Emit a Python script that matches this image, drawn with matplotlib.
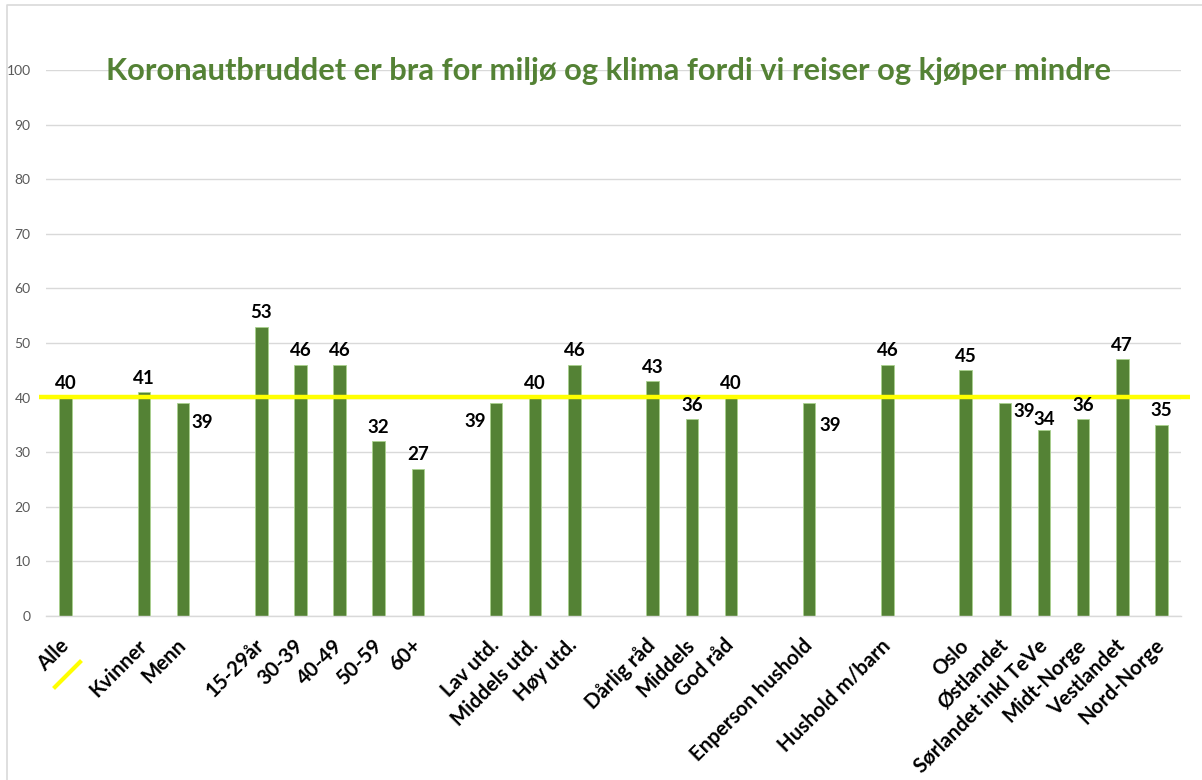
import matplotlib
matplotlib.use("Agg")
import matplotlib.pyplot as plt
from matplotlib.lines import Line2D

categories = ["Alle", "", "Kvinner", "Menn", "", "15-29år", "30-39", "40-49", "50-59", "60+", "",
              "Lav utd.", "Middels utd.", "Høy utd.", "", "Dårlig råd", "Middels", "God råd", "",
              "Enperson hushold", "", "Hushold m/barn", "",
              "Oslo", "Østlandet", "Sørlandet inkl TeVe", "Midt-Norge", "Vestlandet", "Nord-Norge"]
values = [40, None, 41, 39, None, 53, 46, 46, 32, 27, None,
          39, 40, 46, None, 43, 36, 40, None,
          39, None, 46, None,
          45, 39, 34, 36, 47, 35]
reference_value = 40.2
yticks = [0, 10, 20, 30, 40, 50, 60, 70, 80, 90, 100]
title = "Koronautbruddet er bra for miljø og klima fordi vi reiser og kjøper mindre"

# label placement exceptions (offsets in points: dx, dy, ha, va)
label_pos = {
    "Menn": (14, -14, "center", "center"),
    "Lav utd.": (-15, -13, "center", "center"),
    "Enperson hushold": (15, -16, "center", "center"),
    "Østlandet": (14, -6, "center", "center"),
    "Sørlandet inkl TeVe": (0, 2, "center", "bottom"),
}

FONT = ["Lato", "DejaVu Sans"]
plt.rcParams["font.family"] = FONT

W, H = 1202, 780
fig = plt.figure(figsize=(W / 100, H / 100), dpi=100)
fig.patch.set_facecolor("white")
ax = fig.add_axes([46 / W, 1 - 616 / H, (1181 - 46) / W, (616 - 70) / H])

x = list(range(len(categories)))
bar_x = [i for i, v in zip(x, values) if v is not None]
bar_v = [v for v in values if v is not None]
bar_c = [c for c, v in zip(categories, values) if v is not None]

ax.set_axisbelow(True)
ax.yaxis.grid(True, color="#d9d9d9", linewidth=1.0)
ax.bar(bar_x, bar_v, width=0.32, color="#548235", edgecolor="#a9d18e", linewidth=0.6, zorder=2)

ax.set_xlim(-0.5, len(categories) - 0.5)
ax.set_ylim(0, 100)
ax.set_yticks(yticks)
ax.tick_params(axis="y", length=0, pad=11, labelsize=10, labelcolor="#595959")
for s in ["top", "right", "left"]:
    ax.spines[s].set_visible(False)
ax.spines["bottom"].set_color("#d9d9d9")
ax.spines["bottom"].set_linewidth(1.0)

ax.set_xticks(x)
ax.set_xticklabels(categories, rotation=45, ha="right", va="center", rotation_mode="anchor",
                   fontsize=14.8, fontweight="bold", color="black")
ax.tick_params(axis="x", length=0, pad=19)

# reference line
ax.plot([-0.68, len(categories) - 0.28], [reference_value, reference_value], color="#ffff00",
        linewidth=3.2, zorder=3, clip_on=False, solid_capstyle="butt")

for xi, v, c in zip(bar_x, bar_v, bar_c):
    dx, dy, ha, va = label_pos.get(c, (0, 4, "center", "bottom"))
    ax.annotate(str(v), (xi, v), xytext=(dx, dy), textcoords="offset points",
                ha=ha, va=va, fontsize=13.5, fontweight="bold", color="black", zorder=4)

fig.text(609 / W, 1 - 71 / H, title, ha="center", va="center", fontsize=22.2,
         fontweight="bold", color="#548235")

# small yellow stroke under "Alle"
fig.add_artist(Line2D([55 / W, 80 / W], [1 - 687 / H, 1 - 662 / H], color="#ffff00",
                      linewidth=3, transform=fig.transFigure))
# chart border (top & left visible)
fig.add_artist(Line2D([7 / W, 7 / W, 1.0], [0.0, 1 - 4.5 / H, 1 - 4.5 / H], color="#d9d9d9",
                      linewidth=1.2, transform=fig.transFigure))

fig.savefig("out.png", dpi=100, facecolor="white")
